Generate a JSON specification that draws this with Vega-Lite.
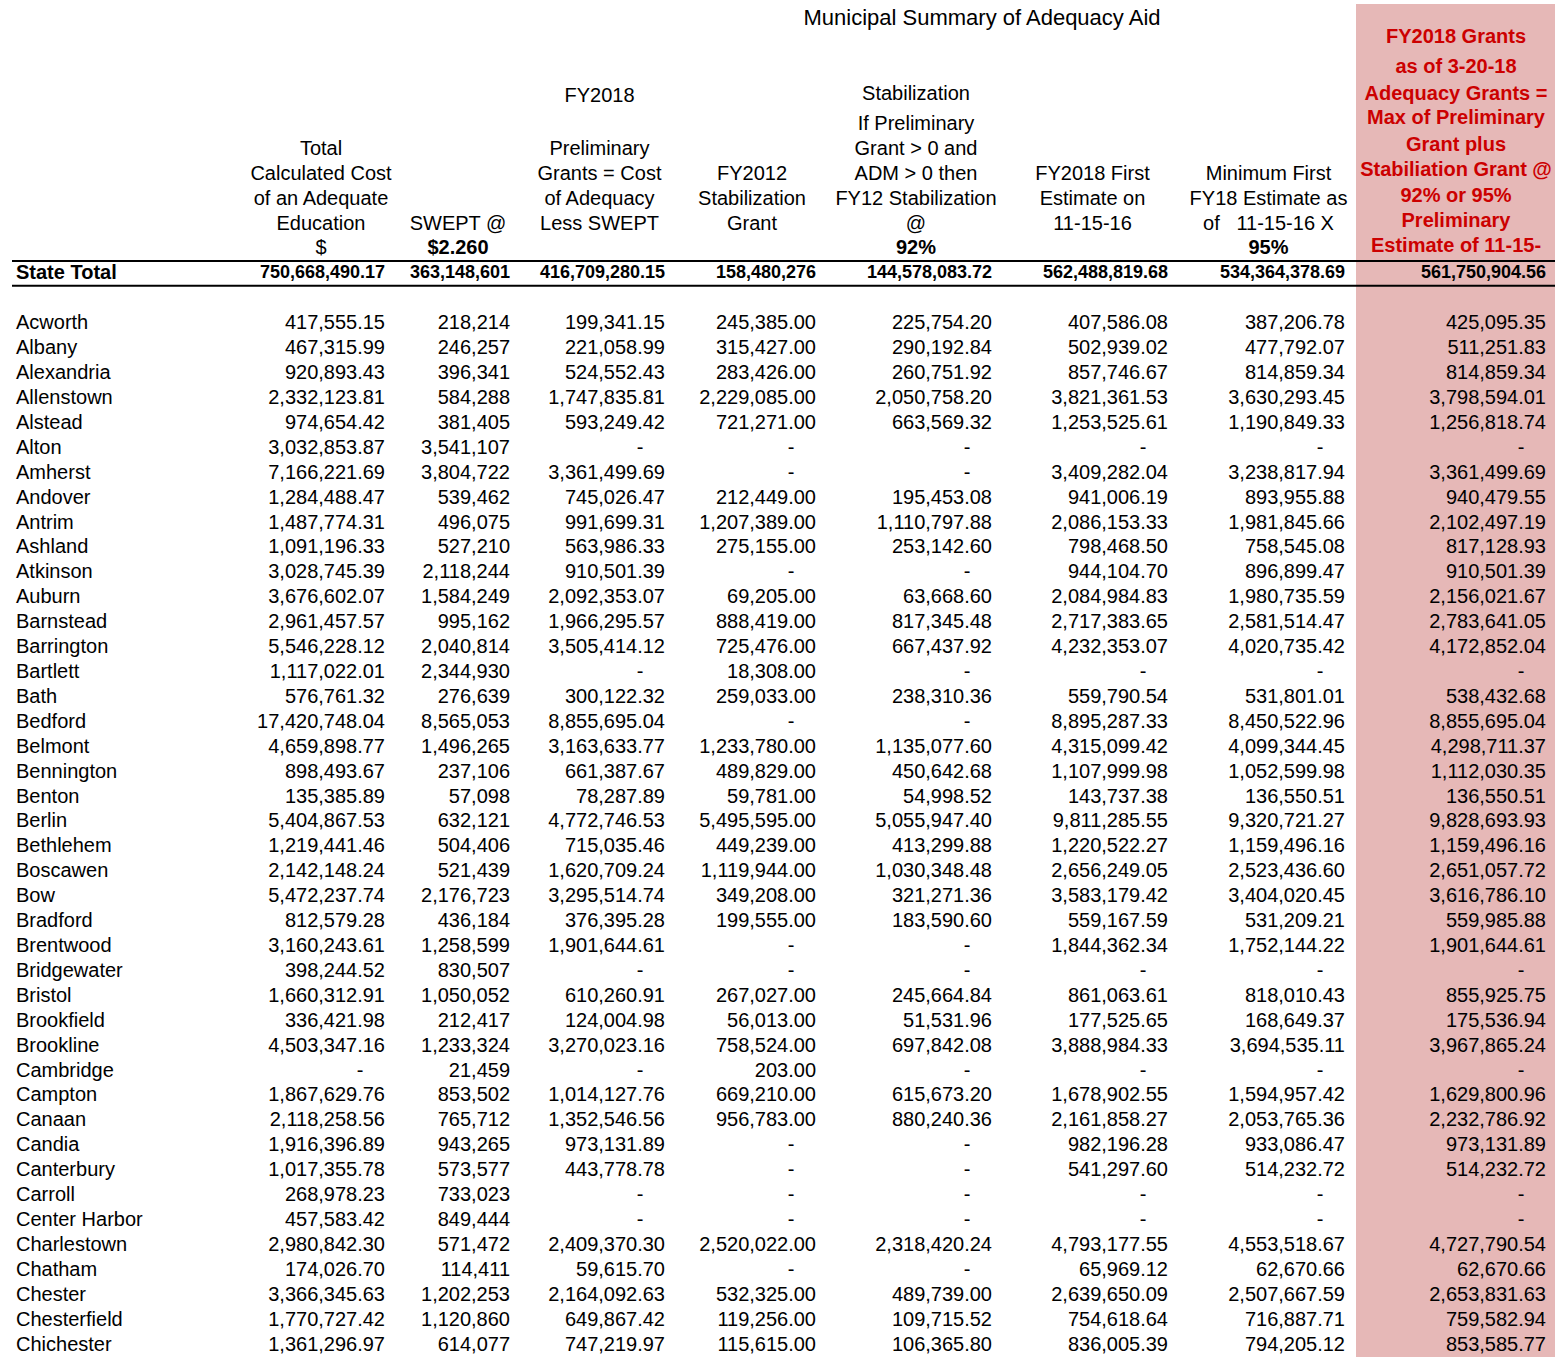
{
  "$schema": "https://vega.github.io/schema/vega-lite/v6.json",
  "padding": {"left": 11, "top": 4, "right": 0, "bottom": 0},
  "background": "white",
  "bounds": "flush",
  "spacing": 0,
  "datasets": {
    "headers": [
      {"row": "h10", "col": "stab", "kind": "title", "text": "Municipal Summary of Adequacy Aid"},
      {"row": "h5", "col": "total", "kind": "label", "text": "Total"},
      {"row": "h4", "col": "total", "kind": "label", "text": "Calculated Cost"},
      {"row": "h3", "col": "total", "kind": "label", "text": "of an Adequate"},
      {"row": "h2", "col": "total", "kind": "label", "text": "Education"},
      {"row": "h1", "col": "total", "kind": "label", "text": "$"},
      {"row": "h2", "col": "swept", "kind": "label", "text": "SWEPT @"},
      {"row": "h1", "col": "swept", "kind": "rate", "text": "$2.260"},
      {"row": "h7", "col": "prelim", "kind": "label", "text": "FY2018"},
      {"row": "h5", "col": "prelim", "kind": "label", "text": "Preliminary"},
      {"row": "h4", "col": "prelim", "kind": "label", "text": "Grants = Cost"},
      {"row": "h3", "col": "prelim", "kind": "label", "text": "of Adequacy"},
      {"row": "h2", "col": "prelim", "kind": "label", "text": "Less SWEPT"},
      {"row": "h4", "col": "fy2012", "kind": "label", "text": "FY2012"},
      {"row": "h3", "col": "fy2012", "kind": "label", "text": "Stabilization"},
      {"row": "h2", "col": "fy2012", "kind": "label", "text": "Grant"},
      {"row": "h7", "col": "stab", "kind": "label", "text": "Stabilization"},
      {"row": "h6", "col": "stab", "kind": "label", "text": "If Preliminary"},
      {"row": "h5", "col": "stab", "kind": "label", "text": "Grant > 0 and"},
      {"row": "h4", "col": "stab", "kind": "label", "text": "ADM > 0 then"},
      {"row": "h3", "col": "stab", "kind": "label", "text": "FY12 Stabilization"},
      {"row": "h2", "col": "stab", "kind": "label", "text": "@"},
      {"row": "h1", "col": "stab", "kind": "rate", "text": "92%"},
      {"row": "h4", "col": "first", "kind": "label", "text": "FY2018 First"},
      {"row": "h3", "col": "first", "kind": "label", "text": "Estimate on"},
      {"row": "h2", "col": "first", "kind": "label", "text": "11-15-16"},
      {"row": "h4", "col": "min", "kind": "label", "text": "Minimum First"},
      {"row": "h3", "col": "min", "kind": "label", "text": "FY18 Estimate as"},
      {"row": "h2", "col": "min", "kind": "label", "text": "of\u00a0\u00a0\u00a011-15-16 X"},
      {"row": "h1", "col": "min", "kind": "rate", "text": "95%"},
      {"row": "h9", "col": "grant", "kind": "label", "text": "FY2018 Grants"},
      {"row": "h8", "col": "grant", "kind": "label", "text": "as of 3-20-18"},
      {"row": "h7", "col": "grant", "kind": "label", "text": "Adequacy Grants ="},
      {"row": "h6", "col": "grant", "kind": "label", "text": "Max of Preliminary"},
      {"row": "h5", "col": "grant", "kind": "label", "text": "Grant plus"},
      {"row": "h4", "col": "grant", "kind": "label", "text": "Stabiliation Grant @"},
      {"row": "h3", "col": "grant", "kind": "label", "text": "92% or 95%"},
      {"row": "h2", "col": "grant", "kind": "label", "text": "Preliminary"},
      {"row": "h1", "col": "grant", "kind": "label", "text": "Estimate of 11-15-"}
    ],
    "towns": [
      {"row": "State Total", "total": 750668490.17, "swept": 363148601, "prelim": 416709280.15, "fy2012": 158480276, "stab": 144578083.72, "first": 562488819.68, "min": 534364378.69, "grant": 561750904.56},
      {"row": "Acworth", "total": 417555.15, "swept": 218214, "prelim": 199341.15, "fy2012": 245385.00, "stab": 225754.20, "first": 407586.08, "min": 387206.78, "grant": 425095.35},
      {"row": "Albany", "total": 467315.99, "swept": 246257, "prelim": 221058.99, "fy2012": 315427.00, "stab": 290192.84, "first": 502939.02, "min": 477792.07, "grant": 511251.83},
      {"row": "Alexandria", "total": 920893.43, "swept": 396341, "prelim": 524552.43, "fy2012": 283426.00, "stab": 260751.92, "first": 857746.67, "min": 814859.34, "grant": 814859.34},
      {"row": "Allenstown", "total": 2332123.81, "swept": 584288, "prelim": 1747835.81, "fy2012": 2229085.00, "stab": 2050758.20, "first": 3821361.53, "min": 3630293.45, "grant": 3798594.01},
      {"row": "Alstead", "total": 974654.42, "swept": 381405, "prelim": 593249.42, "fy2012": 721271.00, "stab": 663569.32, "first": 1253525.61, "min": 1190849.33, "grant": 1256818.74},
      {"row": "Alton", "total": 3032853.87, "swept": 3541107, "prelim": null, "fy2012": null, "stab": null, "first": null, "min": null, "grant": null},
      {"row": "Amherst", "total": 7166221.69, "swept": 3804722, "prelim": 3361499.69, "fy2012": null, "stab": null, "first": 3409282.04, "min": 3238817.94, "grant": 3361499.69},
      {"row": "Andover", "total": 1284488.47, "swept": 539462, "prelim": 745026.47, "fy2012": 212449.00, "stab": 195453.08, "first": 941006.19, "min": 893955.88, "grant": 940479.55},
      {"row": "Antrim", "total": 1487774.31, "swept": 496075, "prelim": 991699.31, "fy2012": 1207389.00, "stab": 1110797.88, "first": 2086153.33, "min": 1981845.66, "grant": 2102497.19},
      {"row": "Ashland", "total": 1091196.33, "swept": 527210, "prelim": 563986.33, "fy2012": 275155.00, "stab": 253142.60, "first": 798468.50, "min": 758545.08, "grant": 817128.93},
      {"row": "Atkinson", "total": 3028745.39, "swept": 2118244, "prelim": 910501.39, "fy2012": null, "stab": null, "first": 944104.70, "min": 896899.47, "grant": 910501.39},
      {"row": "Auburn", "total": 3676602.07, "swept": 1584249, "prelim": 2092353.07, "fy2012": 69205.00, "stab": 63668.60, "first": 2084984.83, "min": 1980735.59, "grant": 2156021.67},
      {"row": "Barnstead", "total": 2961457.57, "swept": 995162, "prelim": 1966295.57, "fy2012": 888419.00, "stab": 817345.48, "first": 2717383.65, "min": 2581514.47, "grant": 2783641.05},
      {"row": "Barrington", "total": 5546228.12, "swept": 2040814, "prelim": 3505414.12, "fy2012": 725476.00, "stab": 667437.92, "first": 4232353.07, "min": 4020735.42, "grant": 4172852.04},
      {"row": "Bartlett", "total": 1117022.01, "swept": 2344930, "prelim": null, "fy2012": 18308.00, "stab": null, "first": null, "min": null, "grant": null},
      {"row": "Bath", "total": 576761.32, "swept": 276639, "prelim": 300122.32, "fy2012": 259033.00, "stab": 238310.36, "first": 559790.54, "min": 531801.01, "grant": 538432.68},
      {"row": "Bedford", "total": 17420748.04, "swept": 8565053, "prelim": 8855695.04, "fy2012": null, "stab": null, "first": 8895287.33, "min": 8450522.96, "grant": 8855695.04},
      {"row": "Belmont", "total": 4659898.77, "swept": 1496265, "prelim": 3163633.77, "fy2012": 1233780.00, "stab": 1135077.60, "first": 4315099.42, "min": 4099344.45, "grant": 4298711.37},
      {"row": "Bennington", "total": 898493.67, "swept": 237106, "prelim": 661387.67, "fy2012": 489829.00, "stab": 450642.68, "first": 1107999.98, "min": 1052599.98, "grant": 1112030.35},
      {"row": "Benton", "total": 135385.89, "swept": 57098, "prelim": 78287.89, "fy2012": 59781.00, "stab": 54998.52, "first": 143737.38, "min": 136550.51, "grant": 136550.51},
      {"row": "Berlin", "total": 5404867.53, "swept": 632121, "prelim": 4772746.53, "fy2012": 5495595.00, "stab": 5055947.40, "first": 9811285.55, "min": 9320721.27, "grant": 9828693.93},
      {"row": "Bethlehem", "total": 1219441.46, "swept": 504406, "prelim": 715035.46, "fy2012": 449239.00, "stab": 413299.88, "first": 1220522.27, "min": 1159496.16, "grant": 1159496.16},
      {"row": "Boscawen", "total": 2142148.24, "swept": 521439, "prelim": 1620709.24, "fy2012": 1119944.00, "stab": 1030348.48, "first": 2656249.05, "min": 2523436.60, "grant": 2651057.72},
      {"row": "Bow", "total": 5472237.74, "swept": 2176723, "prelim": 3295514.74, "fy2012": 349208.00, "stab": 321271.36, "first": 3583179.42, "min": 3404020.45, "grant": 3616786.10},
      {"row": "Bradford", "total": 812579.28, "swept": 436184, "prelim": 376395.28, "fy2012": 199555.00, "stab": 183590.60, "first": 559167.59, "min": 531209.21, "grant": 559985.88},
      {"row": "Brentwood", "total": 3160243.61, "swept": 1258599, "prelim": 1901644.61, "fy2012": null, "stab": null, "first": 1844362.34, "min": 1752144.22, "grant": 1901644.61},
      {"row": "Bridgewater", "total": 398244.52, "swept": 830507, "prelim": null, "fy2012": null, "stab": null, "first": null, "min": null, "grant": null},
      {"row": "Bristol", "total": 1660312.91, "swept": 1050052, "prelim": 610260.91, "fy2012": 267027.00, "stab": 245664.84, "first": 861063.61, "min": 818010.43, "grant": 855925.75},
      {"row": "Brookfield", "total": 336421.98, "swept": 212417, "prelim": 124004.98, "fy2012": 56013.00, "stab": 51531.96, "first": 177525.65, "min": 168649.37, "grant": 175536.94},
      {"row": "Brookline", "total": 4503347.16, "swept": 1233324, "prelim": 3270023.16, "fy2012": 758524.00, "stab": 697842.08, "first": 3888984.33, "min": 3694535.11, "grant": 3967865.24},
      {"row": "Cambridge", "total": null, "swept": 21459, "prelim": null, "fy2012": 203.00, "stab": null, "first": null, "min": null, "grant": null},
      {"row": "Campton", "total": 1867629.76, "swept": 853502, "prelim": 1014127.76, "fy2012": 669210.00, "stab": 615673.20, "first": 1678902.55, "min": 1594957.42, "grant": 1629800.96},
      {"row": "Canaan", "total": 2118258.56, "swept": 765712, "prelim": 1352546.56, "fy2012": 956783.00, "stab": 880240.36, "first": 2161858.27, "min": 2053765.36, "grant": 2232786.92},
      {"row": "Candia", "total": 1916396.89, "swept": 943265, "prelim": 973131.89, "fy2012": null, "stab": null, "first": 982196.28, "min": 933086.47, "grant": 973131.89},
      {"row": "Canterbury", "total": 1017355.78, "swept": 573577, "prelim": 443778.78, "fy2012": null, "stab": null, "first": 541297.60, "min": 514232.72, "grant": 514232.72},
      {"row": "Carroll", "total": 268978.23, "swept": 733023, "prelim": null, "fy2012": null, "stab": null, "first": null, "min": null, "grant": null},
      {"row": "Center Harbor", "total": 457583.42, "swept": 849444, "prelim": null, "fy2012": null, "stab": null, "first": null, "min": null, "grant": null},
      {"row": "Charlestown", "total": 2980842.30, "swept": 571472, "prelim": 2409370.30, "fy2012": 2520022.00, "stab": 2318420.24, "first": 4793177.55, "min": 4553518.67, "grant": 4727790.54},
      {"row": "Chatham", "total": 174026.70, "swept": 114411, "prelim": 59615.70, "fy2012": null, "stab": null, "first": 65969.12, "min": 62670.66, "grant": 62670.66},
      {"row": "Chester", "total": 3366345.63, "swept": 1202253, "prelim": 2164092.63, "fy2012": 532325.00, "stab": 489739.00, "first": 2639650.09, "min": 2507667.59, "grant": 2653831.63},
      {"row": "Chesterfield", "total": 1770727.42, "swept": 1120860, "prelim": 649867.42, "fy2012": 119256.00, "stab": 109715.52, "first": 754618.64, "min": 716887.71, "grant": 759582.94},
      {"row": "Chichester", "total": 1361296.97, "swept": 614077, "prelim": 747219.97, "fy2012": 115615.00, "stab": 106365.80, "first": 836005.39, "min": 794205.12, "grant": 853585.77}
    ]
  },
  "hconcat": [
    {
      "width": 239, "height": 1353,
      "encoding": {"y": {"field": "row", "type": "nominal", "axis": null, "scale": {"type": "band", "paddingInner": 0, "paddingOuter": 0.1574, "align": 1, "domain": ["h10","h9","h8","h7","h6","h5","h4","h3","h2","h1","State Total","gap","Acworth","Albany","Alexandria","Allenstown","Alstead","Alton","Amherst","Andover","Antrim","Ashland","Atkinson","Auburn","Barnstead","Barrington","Bartlett","Bath","Bedford","Belmont","Bennington","Benton","Berlin","Bethlehem","Boscawen","Bow","Bradford","Brentwood","Bridgewater","Bristol","Brookfield","Brookline","Cambridge","Campton","Canaan","Candia","Canterbury","Carroll","Center Harbor","Charlestown","Chatham","Chester","Chesterfield","Chichester"]}}},
      "layer": [
        {"data": {"name": "towns"}, "transform": [{"filter": "datum.row !== 'State Total'"}], "mark": {"type": "text", "align": "left", "dx": 4}, "encoding": {"x": {"value": 0}, "text": {"field": "row", "type": "nominal"}}},
        {"data": {"name": "towns"}, "transform": [{"filter": "datum.row === 'State Total'"}], "mark": {"type": "text", "align": "left", "dx": 4, "fontWeight": "bold"}, "encoding": {"x": {"value": 0}, "text": {"field": "row", "type": "nominal"}}},
        {"data": {"name": "towns"}, "transform": [{"filter": "datum.row === 'State Total'"}], "mark": {"type": "rule"}, "encoding": {"y": {"field": "row", "type": "nominal", "bandPosition": 0, "scale": {"type": "band"}}}},
        {"data": {"name": "towns"}, "transform": [{"filter": "datum.row === 'State Total'"}], "mark": {"type": "rule"}, "encoding": {"y": {"field": "row", "type": "nominal", "bandPosition": 1, "scale": {"type": "band"}}}}
      ]
    },
    {
      "width": 134, "height": 1353,
      "encoding": {"y": {"field": "row", "type": "nominal", "axis": null, "scale": {"type": "band", "paddingInner": 0, "paddingOuter": 0.1574, "align": 1, "domain": ["h10","h9","h8","h7","h6","h5","h4","h3","h2","h1","State Total","gap","Acworth","Albany","Alexandria","Allenstown","Alstead","Alton","Amherst","Andover","Antrim","Ashland","Atkinson","Auburn","Barnstead","Barrington","Bartlett","Bath","Bedford","Belmont","Bennington","Benton","Berlin","Bethlehem","Boscawen","Bow","Bradford","Brentwood","Bridgewater","Bristol","Brookfield","Brookline","Cambridge","Campton","Canaan","Candia","Canterbury","Carroll","Center Harbor","Charlestown","Chatham","Chester","Chesterfield","Chichester"]}}},
      "layer": [
        {"data": {"name": "headers"}, "transform": [{"filter": "datum.col === 'total' && datum.kind === 'label'"}], "mark": {"type": "text", "dx": 3}, "encoding": {"text": {"field": "text"}}},
        {"data": {"name": "towns"}, "transform": [{"filter": "datum.row === 'State Total'"}], "mark": {"type": "text", "align": "right", "fontWeight": "bold", "fontSize": 18}, "encoding": {"x": {"value": "width"}, "text": {"field": "total", "type": "quantitative", "format": ",.2f"}}},
        {"data": {"name": "towns"}, "transform": [{"filter": "datum.row !== 'State Total' && isValid(datum.total)"}], "mark": {"type": "text", "align": "right"}, "encoding": {"x": {"value": "width"}, "text": {"field": "total", "type": "quantitative", "format": ",.2f"}}},
        {"data": {"name": "towns"}, "transform": [{"filter": "datum.row !== 'State Total' && !isValid(datum.total)"}], "mark": {"type": "text", "align": "right", "dx": -21.5, "text": "-"}, "encoding": {"x": {"value": "width"}}},
        {"data": {"name": "towns"}, "transform": [{"filter": "datum.row === 'State Total'"}], "mark": {"type": "rule"}, "encoding": {"y": {"field": "row", "type": "nominal", "bandPosition": 0, "scale": {"type": "band"}}}},
        {"data": {"name": "towns"}, "transform": [{"filter": "datum.row === 'State Total'"}], "mark": {"type": "rule"}, "encoding": {"y": {"field": "row", "type": "nominal", "bandPosition": 1, "scale": {"type": "band"}}}}
      ]
    },
    {
      "width": 125, "height": 1353,
      "encoding": {"y": {"field": "row", "type": "nominal", "axis": null, "scale": {"type": "band", "paddingInner": 0, "paddingOuter": 0.1574, "align": 1, "domain": ["h10","h9","h8","h7","h6","h5","h4","h3","h2","h1","State Total","gap","Acworth","Albany","Alexandria","Allenstown","Alstead","Alton","Amherst","Andover","Antrim","Ashland","Atkinson","Auburn","Barnstead","Barrington","Bartlett","Bath","Bedford","Belmont","Bennington","Benton","Berlin","Bethlehem","Boscawen","Bow","Bradford","Brentwood","Bridgewater","Bristol","Brookfield","Brookline","Cambridge","Campton","Canaan","Candia","Canterbury","Carroll","Center Harbor","Charlestown","Chatham","Chester","Chesterfield","Chichester"]}}},
      "layer": [
        {"data": {"name": "headers"}, "transform": [{"filter": "datum.col === 'swept' && datum.kind === 'label'"}], "mark": {"type": "text", "dx": 10.5}, "encoding": {"text": {"field": "text"}}},
        {"data": {"name": "headers"}, "transform": [{"filter": "datum.col === 'swept' && datum.kind === 'rate'"}], "mark": {"type": "text", "dx": 10.5, "fontWeight": "bold"}, "encoding": {"text": {"field": "text"}}},
        {"data": {"name": "towns"}, "transform": [{"filter": "datum.row === 'State Total'"}], "mark": {"type": "text", "align": "right", "fontWeight": "bold", "fontSize": 18}, "encoding": {"x": {"value": "width"}, "text": {"field": "swept", "type": "quantitative", "format": ",.0f"}}},
        {"data": {"name": "towns"}, "transform": [{"filter": "datum.row !== 'State Total' && isValid(datum.swept)"}], "mark": {"type": "text", "align": "right"}, "encoding": {"x": {"value": "width"}, "text": {"field": "swept", "type": "quantitative", "format": ",.0f"}}},
        {"data": {"name": "towns"}, "transform": [{"filter": "datum.row === 'State Total'"}], "mark": {"type": "rule"}, "encoding": {"y": {"field": "row", "type": "nominal", "bandPosition": 0, "scale": {"type": "band"}}}},
        {"data": {"name": "towns"}, "transform": [{"filter": "datum.row === 'State Total'"}], "mark": {"type": "rule"}, "encoding": {"y": {"field": "row", "type": "nominal", "bandPosition": 1, "scale": {"type": "band"}}}}
      ]
    },
    {
      "width": 155, "height": 1353,
      "encoding": {"y": {"field": "row", "type": "nominal", "axis": null, "scale": {"type": "band", "paddingInner": 0, "paddingOuter": 0.1574, "align": 1, "domain": ["h10","h9","h8","h7","h6","h5","h4","h3","h2","h1","State Total","gap","Acworth","Albany","Alexandria","Allenstown","Alstead","Alton","Amherst","Andover","Antrim","Ashland","Atkinson","Auburn","Barnstead","Barrington","Bartlett","Bath","Bedford","Belmont","Bennington","Benton","Berlin","Bethlehem","Boscawen","Bow","Bradford","Brentwood","Bridgewater","Bristol","Brookfield","Brookline","Cambridge","Campton","Canaan","Candia","Canterbury","Carroll","Center Harbor","Charlestown","Chatham","Chester","Chesterfield","Chichester"]}}},
      "layer": [
        {"data": {"name": "headers"}, "transform": [{"filter": "datum.col === 'prelim' && datum.kind === 'label' && datum.row !== 'h7'"}], "mark": {"type": "text", "dx": 12}, "encoding": {"text": {"field": "text"}}},
        {"data": {"name": "headers"}, "transform": [{"filter": "datum.col === 'prelim' && datum.kind === 'label' && datum.row === 'h7'"}], "mark": {"type": "text", "dx": 12, "dy": -3.5}, "encoding": {"text": {"field": "text"}}},
        {"data": {"name": "towns"}, "transform": [{"filter": "datum.row === 'State Total'"}], "mark": {"type": "text", "align": "right", "fontWeight": "bold", "fontSize": 18}, "encoding": {"x": {"value": "width"}, "text": {"field": "prelim", "type": "quantitative", "format": ",.2f"}}},
        {"data": {"name": "towns"}, "transform": [{"filter": "datum.row !== 'State Total' && isValid(datum.prelim)"}], "mark": {"type": "text", "align": "right"}, "encoding": {"x": {"value": "width"}, "text": {"field": "prelim", "type": "quantitative", "format": ",.2f"}}},
        {"data": {"name": "towns"}, "transform": [{"filter": "datum.row !== 'State Total' && !isValid(datum.prelim)"}], "mark": {"type": "text", "align": "right", "dx": -21.5, "text": "-"}, "encoding": {"x": {"value": "width"}}},
        {"data": {"name": "towns"}, "transform": [{"filter": "datum.row === 'State Total'"}], "mark": {"type": "rule"}, "encoding": {"y": {"field": "row", "type": "nominal", "bandPosition": 0, "scale": {"type": "band"}}}},
        {"data": {"name": "towns"}, "transform": [{"filter": "datum.row === 'State Total'"}], "mark": {"type": "rule"}, "encoding": {"y": {"field": "row", "type": "nominal", "bandPosition": 1, "scale": {"type": "band"}}}}
      ]
    },
    {
      "width": 151, "height": 1353,
      "encoding": {"y": {"field": "row", "type": "nominal", "axis": null, "scale": {"type": "band", "paddingInner": 0, "paddingOuter": 0.1574, "align": 1, "domain": ["h10","h9","h8","h7","h6","h5","h4","h3","h2","h1","State Total","gap","Acworth","Albany","Alexandria","Allenstown","Alstead","Alton","Amherst","Andover","Antrim","Ashland","Atkinson","Auburn","Barnstead","Barrington","Bartlett","Bath","Bedford","Belmont","Bennington","Benton","Berlin","Bethlehem","Boscawen","Bow","Bradford","Brentwood","Bridgewater","Bristol","Brookfield","Brookline","Cambridge","Campton","Canaan","Candia","Canterbury","Carroll","Center Harbor","Charlestown","Chatham","Chester","Chesterfield","Chichester"]}}},
      "layer": [
        {"data": {"name": "headers"}, "transform": [{"filter": "datum.col === 'fy2012' && datum.kind === 'label'"}], "mark": {"type": "text", "dx": 11.5}, "encoding": {"text": {"field": "text"}}},
        {"data": {"name": "towns"}, "transform": [{"filter": "datum.row === 'State Total'"}], "mark": {"type": "text", "align": "right", "fontWeight": "bold", "fontSize": 18}, "encoding": {"x": {"value": "width"}, "text": {"field": "fy2012", "type": "quantitative", "format": ",.0f"}}},
        {"data": {"name": "towns"}, "transform": [{"filter": "datum.row !== 'State Total' && isValid(datum.fy2012)"}], "mark": {"type": "text", "align": "right"}, "encoding": {"x": {"value": "width"}, "text": {"field": "fy2012", "type": "quantitative", "format": ",.2f"}}},
        {"data": {"name": "towns"}, "transform": [{"filter": "datum.row !== 'State Total' && !isValid(datum.fy2012)"}], "mark": {"type": "text", "align": "right", "dx": -21.5, "text": "-"}, "encoding": {"x": {"value": "width"}}},
        {"data": {"name": "towns"}, "transform": [{"filter": "datum.row === 'State Total'"}], "mark": {"type": "rule"}, "encoding": {"y": {"field": "row", "type": "nominal", "bandPosition": 0, "scale": {"type": "band"}}}},
        {"data": {"name": "towns"}, "transform": [{"filter": "datum.row === 'State Total'"}], "mark": {"type": "rule"}, "encoding": {"y": {"field": "row", "type": "nominal", "bandPosition": 1, "scale": {"type": "band"}}}}
      ]
    },
    {
      "width": 176, "height": 1353,
      "encoding": {"y": {"field": "row", "type": "nominal", "axis": null, "scale": {"type": "band", "paddingInner": 0, "paddingOuter": 0.1574, "align": 1, "domain": ["h10","h9","h8","h7","h6","h5","h4","h3","h2","h1","State Total","gap","Acworth","Albany","Alexandria","Allenstown","Alstead","Alton","Amherst","Andover","Antrim","Ashland","Atkinson","Auburn","Barnstead","Barrington","Bartlett","Bath","Bedford","Belmont","Bennington","Benton","Berlin","Bethlehem","Boscawen","Bow","Bradford","Brentwood","Bridgewater","Bristol","Brookfield","Brookline","Cambridge","Campton","Canaan","Candia","Canterbury","Carroll","Center Harbor","Charlestown","Chatham","Chester","Chesterfield","Chichester"]}}},
      "layer": [
        {"data": {"name": "headers"}, "transform": [{"filter": "datum.col === 'stab' && datum.kind === 'title'"}], "mark": {"type": "text", "dx": 78, "dy": -6, "fontSize": 22}, "encoding": {"text": {"field": "text"}}},
        {"data": {"name": "headers"}, "transform": [{"filter": "datum.col === 'stab' && datum.kind === 'label' && datum.row !== 'h7'"}], "mark": {"type": "text", "dx": 12}, "encoding": {"text": {"field": "text"}}},
        {"data": {"name": "headers"}, "transform": [{"filter": "datum.col === 'stab' && datum.kind === 'label' && datum.row === 'h7'"}], "mark": {"type": "text", "dx": 12, "dy": -5.5}, "encoding": {"text": {"field": "text"}}},
        {"data": {"name": "headers"}, "transform": [{"filter": "datum.col === 'stab' && datum.kind === 'rate'"}], "mark": {"type": "text", "dx": 12, "fontWeight": "bold"}, "encoding": {"text": {"field": "text"}}},
        {"data": {"name": "towns"}, "transform": [{"filter": "datum.row === 'State Total'"}], "mark": {"type": "text", "align": "right", "fontWeight": "bold", "fontSize": 18}, "encoding": {"x": {"value": "width"}, "text": {"field": "stab", "type": "quantitative", "format": ",.2f"}}},
        {"data": {"name": "towns"}, "transform": [{"filter": "datum.row !== 'State Total' && isValid(datum.stab)"}], "mark": {"type": "text", "align": "right"}, "encoding": {"x": {"value": "width"}, "text": {"field": "stab", "type": "quantitative", "format": ",.2f"}}},
        {"data": {"name": "towns"}, "transform": [{"filter": "datum.row !== 'State Total' && !isValid(datum.stab)"}], "mark": {"type": "text", "align": "right", "dx": -21.5, "text": "-"}, "encoding": {"x": {"value": "width"}}},
        {"data": {"name": "towns"}, "transform": [{"filter": "datum.row === 'State Total'"}], "mark": {"type": "rule"}, "encoding": {"y": {"field": "row", "type": "nominal", "bandPosition": 0, "scale": {"type": "band"}}}},
        {"data": {"name": "towns"}, "transform": [{"filter": "datum.row === 'State Total'"}], "mark": {"type": "rule"}, "encoding": {"y": {"field": "row", "type": "nominal", "bandPosition": 1, "scale": {"type": "band"}}}}
      ]
    },
    {
      "width": 176, "height": 1353,
      "encoding": {"y": {"field": "row", "type": "nominal", "axis": null, "scale": {"type": "band", "paddingInner": 0, "paddingOuter": 0.1574, "align": 1, "domain": ["h10","h9","h8","h7","h6","h5","h4","h3","h2","h1","State Total","gap","Acworth","Albany","Alexandria","Allenstown","Alstead","Alton","Amherst","Andover","Antrim","Ashland","Atkinson","Auburn","Barnstead","Barrington","Bartlett","Bath","Bedford","Belmont","Bennington","Benton","Berlin","Bethlehem","Boscawen","Bow","Bradford","Brentwood","Bridgewater","Bristol","Brookfield","Brookline","Cambridge","Campton","Canaan","Candia","Canterbury","Carroll","Center Harbor","Charlestown","Chatham","Chester","Chesterfield","Chichester"]}}},
      "layer": [
        {"data": {"name": "headers"}, "transform": [{"filter": "datum.col === 'first' && datum.kind === 'label'"}], "mark": {"type": "text", "dx": 12.5}, "encoding": {"text": {"field": "text"}}},
        {"data": {"name": "towns"}, "transform": [{"filter": "datum.row === 'State Total'"}], "mark": {"type": "text", "align": "right", "fontWeight": "bold", "fontSize": 18}, "encoding": {"x": {"value": "width"}, "text": {"field": "first", "type": "quantitative", "format": ",.2f"}}},
        {"data": {"name": "towns"}, "transform": [{"filter": "datum.row !== 'State Total' && isValid(datum.first)"}], "mark": {"type": "text", "align": "right"}, "encoding": {"x": {"value": "width"}, "text": {"field": "first", "type": "quantitative", "format": ",.2f"}}},
        {"data": {"name": "towns"}, "transform": [{"filter": "datum.row !== 'State Total' && !isValid(datum.first)"}], "mark": {"type": "text", "align": "right", "dx": -21.5, "text": "-"}, "encoding": {"x": {"value": "width"}}},
        {"data": {"name": "towns"}, "transform": [{"filter": "datum.row === 'State Total'"}], "mark": {"type": "rule"}, "encoding": {"y": {"field": "row", "type": "nominal", "bandPosition": 0, "scale": {"type": "band"}}}},
        {"data": {"name": "towns"}, "transform": [{"filter": "datum.row === 'State Total'"}], "mark": {"type": "rule"}, "encoding": {"y": {"field": "row", "type": "nominal", "bandPosition": 1, "scale": {"type": "band"}}}}
      ]
    },
    {
      "width": 188, "height": 1353,
      "encoding": {"y": {"field": "row", "type": "nominal", "axis": null, "scale": {"type": "band", "paddingInner": 0, "paddingOuter": 0.1574, "align": 1, "domain": ["h10","h9","h8","h7","h6","h5","h4","h3","h2","h1","State Total","gap","Acworth","Albany","Alexandria","Allenstown","Alstead","Alton","Amherst","Andover","Antrim","Ashland","Atkinson","Auburn","Barnstead","Barrington","Bartlett","Bath","Bedford","Belmont","Bennington","Benton","Berlin","Bethlehem","Boscawen","Bow","Bradford","Brentwood","Bridgewater","Bristol","Brookfield","Brookline","Cambridge","Campton","Canaan","Candia","Canterbury","Carroll","Center Harbor","Charlestown","Chatham","Chester","Chesterfield","Chichester"]}}},
      "layer": [
        {"data": {"name": "headers"}, "transform": [{"filter": "datum.col === 'min' && datum.kind === 'label'"}], "mark": {"type": "text", "dx": 6.5}, "encoding": {"text": {"field": "text"}}},
        {"data": {"name": "headers"}, "transform": [{"filter": "datum.col === 'min' && datum.kind === 'rate'"}], "mark": {"type": "text", "dx": 6.5, "fontWeight": "bold"}, "encoding": {"text": {"field": "text"}}},
        {"data": {"name": "towns"}, "transform": [{"filter": "datum.row === 'State Total'"}], "mark": {"type": "text", "align": "right", "dx": -11, "fontWeight": "bold", "fontSize": 18}, "encoding": {"x": {"value": "width"}, "text": {"field": "min", "type": "quantitative", "format": ",.2f"}}},
        {"data": {"name": "towns"}, "transform": [{"filter": "datum.row !== 'State Total' && isValid(datum.min)"}], "mark": {"type": "text", "align": "right", "dx": -11}, "encoding": {"x": {"value": "width"}, "text": {"field": "min", "type": "quantitative", "format": ",.2f"}}},
        {"data": {"name": "towns"}, "transform": [{"filter": "datum.row !== 'State Total' && !isValid(datum.min)"}], "mark": {"type": "text", "align": "right", "dx": -32.5, "text": "-"}, "encoding": {"x": {"value": "width"}}},
        {"data": {"name": "towns"}, "transform": [{"filter": "datum.row === 'State Total'"}], "mark": {"type": "rule"}, "encoding": {"y": {"field": "row", "type": "nominal", "bandPosition": 0, "scale": {"type": "band"}}}},
        {"data": {"name": "towns"}, "transform": [{"filter": "datum.row === 'State Total'"}], "mark": {"type": "rule"}, "encoding": {"y": {"field": "row", "type": "nominal", "bandPosition": 1, "scale": {"type": "band"}}}}
      ]
    },
    {
      "width": 200, "height": 1353,
      "view": {"fill": "#e6b8b7", "stroke": null},
      "encoding": {"y": {"field": "row", "type": "nominal", "axis": null, "scale": {"type": "band", "paddingInner": 0, "paddingOuter": 0.1574, "align": 1, "domain": ["h10","h9","h8","h7","h6","h5","h4","h3","h2","h1","State Total","gap","Acworth","Albany","Alexandria","Allenstown","Alstead","Alton","Amherst","Andover","Antrim","Ashland","Atkinson","Auburn","Barnstead","Barrington","Bartlett","Bath","Bedford","Belmont","Bennington","Benton","Berlin","Bethlehem","Boscawen","Bow","Bradford","Brentwood","Bridgewater","Bristol","Brookfield","Brookline","Cambridge","Campton","Canaan","Candia","Canterbury","Carroll","Center Harbor","Charlestown","Chatham","Chester","Chesterfield","Chichester"]}}},
      "layer": [
        {"data": {"name": "headers"}, "transform": [{"filter": "datum.col === 'grant' && datum.row === 'h9'"}], "mark": {"type": "text", "dy": -12.5, "fontWeight": "bold", "color": "#cc0000"}, "encoding": {"text": {"field": "text"}}},
        {"data": {"name": "headers"}, "transform": [{"filter": "datum.col === 'grant' && datum.row === 'h8'"}], "mark": {"type": "text", "dy": -7.5, "fontWeight": "bold", "color": "#cc0000"}, "encoding": {"text": {"field": "text"}}},
        {"data": {"name": "headers"}, "transform": [{"filter": "datum.col === 'grant' && (datum.row === 'h7' || datum.row === 'h6')"}], "mark": {"type": "text", "dy": -5.5, "fontWeight": "bold", "color": "#cc0000"}, "encoding": {"text": {"field": "text"}}},
        {"data": {"name": "headers"}, "transform": [{"filter": "datum.col === 'grant' && (datum.row === 'h5' || datum.row === 'h4')"}], "mark": {"type": "text", "dy": -4, "fontWeight": "bold", "color": "#cc0000"}, "encoding": {"text": {"field": "text"}}},
        {"data": {"name": "headers"}, "transform": [{"filter": "datum.col === 'grant' && (datum.row === 'h3' || datum.row === 'h2' || datum.row === 'h1')"}], "mark": {"type": "text", "dy": -2.5, "fontWeight": "bold", "color": "#cc0000"}, "encoding": {"text": {"field": "text"}}},
        {"data": {"name": "towns"}, "transform": [{"filter": "datum.row === 'State Total'"}], "mark": {"type": "text", "align": "right", "dx": -10, "fontWeight": "bold", "fontSize": 18}, "encoding": {"x": {"value": "width"}, "text": {"field": "grant", "type": "quantitative", "format": ",.2f"}}},
        {"data": {"name": "towns"}, "transform": [{"filter": "datum.row !== 'State Total' && isValid(datum.grant)"}], "mark": {"type": "text", "align": "right", "dx": -10}, "encoding": {"x": {"value": "width"}, "text": {"field": "grant", "type": "quantitative", "format": ",.2f"}}},
        {"data": {"name": "towns"}, "transform": [{"filter": "datum.row !== 'State Total' && !isValid(datum.grant)"}], "mark": {"type": "text", "align": "right", "dx": -31.5, "text": "-"}, "encoding": {"x": {"value": "width"}}},
        {"data": {"name": "towns"}, "transform": [{"filter": "datum.row === 'State Total'"}], "mark": {"type": "rule"}, "encoding": {"y": {"field": "row", "type": "nominal", "bandPosition": 0, "scale": {"type": "band"}}}},
        {"data": {"name": "towns"}, "transform": [{"filter": "datum.row === 'State Total'"}], "mark": {"type": "rule"}, "encoding": {"y": {"field": "row", "type": "nominal", "bandPosition": 1, "scale": {"type": "band"}}}}
      ]
    }
  ],
  "config": {
    "view": {"stroke": null},
    "text": {"font": "Liberation Sans", "fontSize": 20, "baseline": "middle", "color": "#000000"},
    "rule": {"color": "#000000", "strokeWidth": 2}
  }
}
